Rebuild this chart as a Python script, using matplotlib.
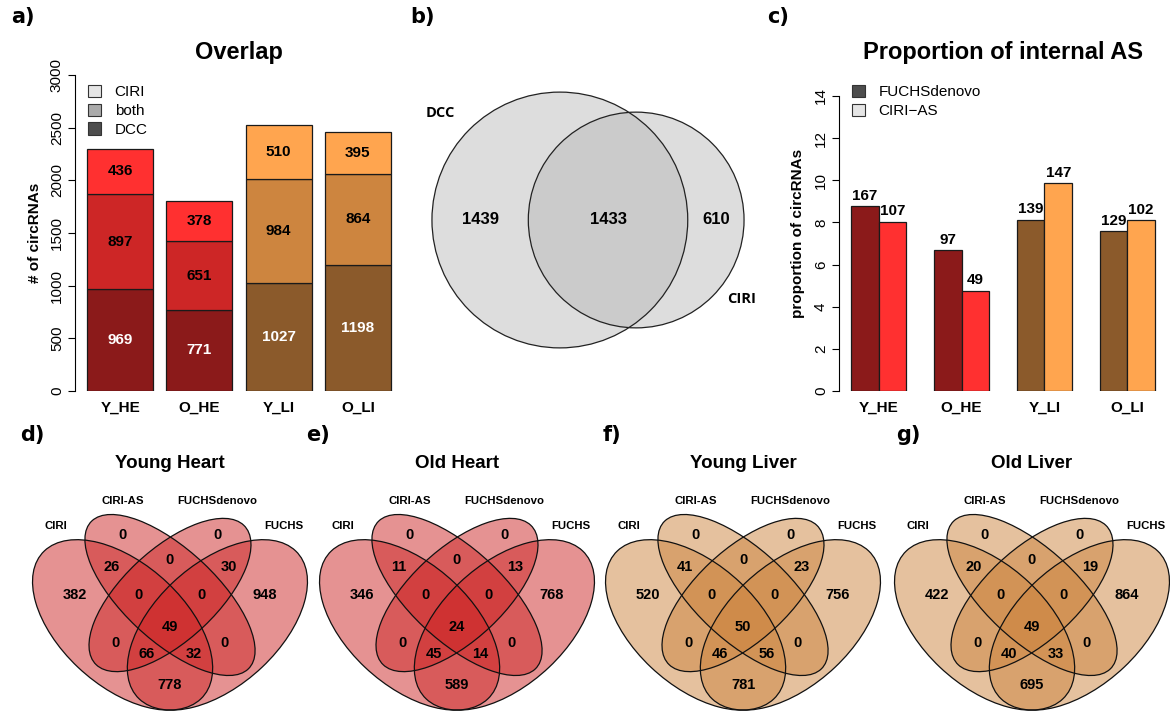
import numpy as np
import matplotlib
matplotlib.use("Agg")
import matplotlib.pyplot as plt
from matplotlib.patches import Ellipse, Circle, Patch

plt.rcParams['font.family'] = 'Liberation Sans'

# -------------------- DATA --------------------
samples = ["Y_HE", "O_HE", "Y_LI", "O_LI"]

# a) overlap of DCC / CIRI per sample (stacked)
overlap_dcc = [969, 771, 1027, 1198]
overlap_both = [897, 651, 984, 864]
overlap_ciri = [436, 378, 510, 395]

# b) DCC vs CIRI, all samples
dcc_only, dcc_ciri_both, ciri_only = 1439, 1433, 610

# c) proportion of internal AS (%) and counts
as_fuchs_prop = [8.78, 6.69, 8.13, 7.59]
as_ciri_prop = [8.03, 4.76, 9.86, 8.10]
as_fuchs_n = [167, 97, 139, 129]
as_ciri_n = [107, 49, 147, 102]

# d-g) four-way venns
venn_titles = ["Young Heart", "Old Heart", "Young Liver", "Old Liver"]
venn_sets = ["CIRI", "CIRI-AS", "FUCHSdenovo", "FUCHS"]
venn_regions = ["CIRI", "CIRI-AS", "FUCHSdenovo", "FUCHS",
                "CIRI&CIRI-AS", "CIRI-AS&FUCHSdenovo", "FUCHSdenovo&FUCHS",
                "CIRI&FUCHSdenovo", "CIRI-AS&FUCHS", "CIRI&FUCHS",
                "CIRI&CIRI-AS&FUCHSdenovo", "CIRI-AS&FUCHSdenovo&FUCHS",
                "CIRI&FUCHSdenovo&FUCHS", "CIRI&CIRI-AS&FUCHS", "all"]
young_heart = [382, 0, 0, 948, 26, 0, 30, 0, 0, 778, 0, 0, 66, 32, 49]
old_heart = [346, 0, 0, 768, 11, 0, 13, 0, 0, 589, 0, 0, 45, 14, 24]
young_liver = [520, 0, 0, 756, 41, 0, 23, 0, 0, 781, 0, 0, 46, 56, 50]
old_liver = [422, 0, 0, 864, 20, 0, 19, 0, 0, 695, 0, 0, 40, 33, 49]

# -------------------- STYLE --------------------
W, H = 1170, 715
HE = ["#8B1A1A", "#CD2626", "#FF3030"]   # firebrick4/3/1
LI = ["#8B5A2B", "#CD853F", "#FFA54F"]   # tan4/3/1
tissue_cols = [HE, HE, LI, LI]
EDGE = "#1a1a1a"

# VennDiagram quad layout (unit square): x, y, a, b, rotation
QUAD_ELL = [(0.35, 0.47, 0.35, 0.20, 135),
            (0.50, 0.57, 0.35, 0.15, 135),
            (0.50, 0.57, 0.33, 0.15, 45),
            (0.65, 0.47, 0.35, 0.20, 45)]
QUAD_LAB = [(0.14, 0.80), (0.35, 0.885), (0.65, 0.885), (0.86, 0.80)]
QUAD_POS = [(0.20, 0.57), (0.35, 0.77), (0.65, 0.77), (0.80, 0.57),
            (0.315, 0.665), (0.50, 0.687), (0.685, 0.665),
            (0.326, 0.408), (0.674, 0.408), (0.50, 0.269),
            (0.40, 0.57), (0.60, 0.57),
            (0.426, 0.373), (0.574, 0.373), (0.50, 0.464)]


def fx(x):
    return x / W


def fy(y):
    return 1 - y / H


fig = plt.figure(figsize=(W / 100, H / 100), dpi=100)


def r_axis(ax, yticks):
    for s in ["top", "right", "bottom"]:
        ax.spines[s].set_visible(False)
    ax.spines["left"].set_bounds(yticks[0], yticks[-1])
    ax.spines["left"].set_linewidth(0.8)
    ax.set_yticks(yticks)
    ax.tick_params(axis="y", length=5, width=0.8, labelsize=11, pad=3)
    plt.setp(ax.get_yticklabels(), rotation=90, va="center")
    ax.tick_params(axis="x", length=0, pad=7, labelsize=11)
    ax.patch.set_visible(False)


# -------------------- a) Overlap --------------------
ax = fig.add_axes([fx(75), fy(391), 328 / W, 316 / H])
xa = np.arange(4) * 1.2 + 0.7
bottom = np.zeros(4)
for k, (vals, txtcol) in enumerate([(overlap_dcc, "white"), (overlap_both, "black"),
                                    (overlap_ciri, "black")]):
    cols = [c[k] for c in tissue_cols]
    ax.bar(xa, vals, width=1, bottom=bottom, color=cols, edgecolor=EDGE, linewidth=0.9)
    for x, b, v in zip(xa, bottom, vals):
        ax.text(x, b + v / 2, str(v), ha="center", va="center", fontsize=11,
                fontweight="bold", color=txtcol)
    bottom = bottom + np.array(vals)
ax.set_xlim(0.016, 4.984)
ax.set_ylim(0, 3000)
r_axis(ax, list(range(0, 3001, 500)))
ax.set_xticks(xa, samples, fontweight="bold")
ax.legend(handles=[Patch(fc="#E5E5E5", ec="#333333", lw=0.8, label="CIRI"),
                   Patch(fc="#AAAAAA", ec="#333333", lw=0.8, label="both"),
                   Patch(fc="#4D4D4D", ec="#333333", lw=0.8, label="DCC")],
          loc="upper left", bbox_to_anchor=(fx(88), fy(85)), bbox_transform=fig.transFigure,
          frameon=False, fontsize=11, handlelength=0.85, handleheight=0.85,
          handletextpad=0.9, labelspacing=0.28, borderpad=0, borderaxespad=0)
fig.text(fx(239), fy(53), "Overlap", ha="center", va="center", fontsize=17, fontweight="bold")
fig.text(fx(35), fy(233), "# of circRNAs", ha="center", va="center", rotation=90,
         fontsize=11, fontweight="bold")

# -------------------- b) two-set venn --------------------
r1 = np.sqrt((dcc_only + dcc_ciri_both) / np.pi)
r2 = np.sqrt((ciri_only + dcc_ciri_both) / np.pi)


def lens_area(d):
    a1 = np.arccos((d * d + r1 * r1 - r2 * r2) / (2 * d * r1))
    a2 = np.arccos((d * d + r2 * r2 - r1 * r1) / (2 * d * r2))
    return r1 ** 2 * (a1 - np.sin(2 * a1) / 2) + r2 ** 2 * (a2 - np.sin(2 * a2) / 2)


lo, hi = abs(r1 - r2) + 1e-6, r1 + r2 - 1e-6
for _ in range(60):
    mid = (lo + hi) / 2
    if lens_area(mid) > dcc_ciri_both:
        lo = mid
    else:
        hi = mid
d = (lo + hi) / 2
c1 = (r1 - d - r2) / 2
c2 = c1 + d

scale = 4.23  # px per unit
axb = fig.add_axes([fx(420), fy(370), 350 / W, 300 / H])
axb.set_xlim(-(588 - 420) / scale, (770 - 588) / scale)
axb.set_ylim(-150 / scale, 150 / scale)
axb.axis("off")
for cx, r in [(c1, r1), (c2, r2)]:
    axb.add_patch(Circle((cx, 0), r, fc="#B6B6B6", alpha=0.46, ec="none"))
for cx, r in [(c1, r1), (c2, r2)]:
    axb.add_patch(Circle((cx, 0), r, fill=False, ec="#222222", lw=0.9))
for x, v in [((c1 - r1 + c2 - r2) / 2, dcc_only), ((c2 - r2 + c1 + r1) / 2, dcc_ciri_both),
             ((c1 + r1 + c2 + r2) / 2, ciri_only)]:
    axb.text(x, 0, str(v), ha="center", va="center", fontsize=12, fontweight="bold")
ang1, ang2 = np.deg2rad(138), np.deg2rad(-37)
axb.text(c1 + (r1 + 7.7) * np.cos(ang1), (r1 + 7.7) * np.sin(ang1), "DCC", ha="center",
         va="center", fontsize=10.5, fontweight="bold", family="Open Sans")
axb.text(c2 + (r2 + 5.7) * np.cos(ang2), (r2 + 5.7) * np.sin(ang2), "CIRI", ha="center",
         va="center", fontsize=10.5, fontweight="bold", family="Open Sans")

# -------------------- c) internal AS --------------------
axc = fig.add_axes([fx(839), fy(391), 328 / W, 295 / H])
groups = np.arange(4) * 3 + 1
for off, vals, ns, k in [(0.5, as_fuchs_prop, as_fuchs_n, 0), (1.5, as_ciri_prop, as_ciri_n, 2)]:
    cols = [c[k] for c in tissue_cols]
    axc.bar(groups + off, vals, width=1, color=cols, edgecolor=EDGE, linewidth=0.9)
    for x, v, n in zip(groups + off, vals, ns):
        axc.annotate(str(n), (x, v), xytext=(0, 7.5), textcoords="offset points",
                     ha="center", va="center", fontsize=11, fontweight="bold")
axc.set_xlim(0.56, 12.44)
axc.set_ylim(0, 14)
r_axis(axc, list(range(0, 15, 2)))
axc.set_xticks(groups + 1, samples, fontweight="bold")
axc.legend(handles=[Patch(fc="#4D4D4D", ec="#333333", lw=0.8, label="FUCHSdenovo"),
                    Patch(fc="#E5E5E5", ec="#333333", lw=0.8, label="CIRI\u2212AS")],
           loc="upper left", bbox_to_anchor=(fx(852), fy(85)), bbox_transform=fig.transFigure,
           frameon=False, fontsize=11, handlelength=0.85, handleheight=0.85,
           handletextpad=0.9, labelspacing=0.28, borderpad=0, borderaxespad=0)
fig.text(fx(1003), fy(53), "Proportion of internal AS", ha="center", va="center",
         fontsize=17, fontweight="bold")
fig.text(fx(798), fy(233), "proportion of circRNAs", ha="center", va="center", rotation=90,
         fontsize=11, fontweight="bold")

# -------------------- d-g) four-way venns --------------------
venn_counts = [young_heart, old_heart, young_liver, old_liver]
venn_fill = [HE[1], HE[1], LI[1], LI[1]]
venn_cx = [170, 457, 743, 1032]
SX, SY = 316, 299
for title, counts, fill, cx in zip(venn_titles, venn_counts, venn_fill, venn_cx):
    y_lo, y_hi = 0.17, 0.93
    bot_px = 595 + (0.57 - y_lo) * SY
    axv = fig.add_axes([fx(cx - SX / 2), fy(bot_px), SX / W, (y_hi - y_lo) * SY / H])
    axv.set_xlim(0, 1)
    axv.set_ylim(y_lo, y_hi)
    axv.axis("off")
    for x, y, a, b, rot in QUAD_ELL:
        axv.add_patch(Ellipse((x, y), 2 * a, 2 * b, angle=rot, fc=fill, alpha=0.5,
                              ec="none", clip_on=False))
    for x, y, a, b, rot in QUAD_ELL:
        axv.add_patch(Ellipse((x, y), 2 * a, 2 * b, angle=rot, fill=False, ec="#111111",
                              lw=0.9, clip_on=False))
    for (x, y), v in zip(QUAD_POS, counts):
        axv.text(x, y, str(v), ha="center", va="center", fontsize=10.5, fontweight="bold")
    for (x, y), name in zip(QUAD_LAB, venn_sets):
        axv.text(x, y, name, ha="center", va="center", fontsize=8.2, fontweight="bold")
    fig.text(fx(cx), fy(463), title, ha="center", va="center", fontsize=13.5,
             fontweight="bold")

# -------------------- panel letters --------------------
for lab, x, y in [("a)", 23, 17), ("b)", 422, 17), ("c)", 778, 17), ("d)", 32, 435),
                  ("e)", 318, 435), ("f)", 612, 435), ("g)", 908, 435)]:
    fig.text(fx(x), fy(y), lab, ha="center", va="center", fontsize=15,
             fontweight="bold", family="DejaVu Sans")

fig.savefig("out.png", dpi=100)
